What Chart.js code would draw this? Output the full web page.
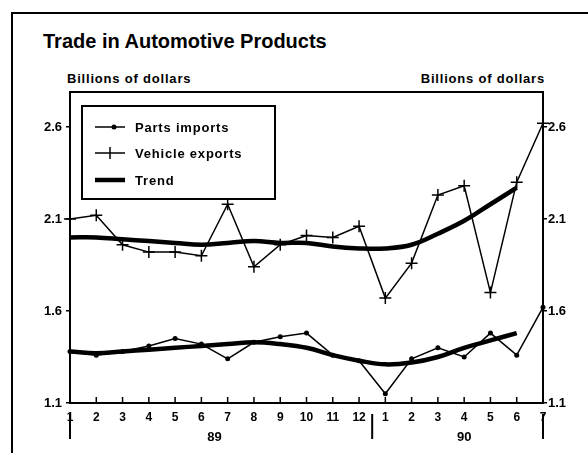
<!DOCTYPE html>
<html>
<head>
<meta charset="utf-8">
<title>Trade in Automotive Products</title>
<script src="https://cdn.jsdelivr.net/npm/chart.js@4/dist/chart.umd.min.js"></script>
<style>
  body { margin: 0; background: #fff; }
  #wrap { position: relative; width: 588px; height: 453px; overflow: hidden;
    font-family: "Liberation Sans", Arial, sans-serif; font-weight: bold; color: #000; }
  #frame { position: absolute; left: 11px; top: 12px; width: 600px; height: 480px;
    border-left: 2px solid #000; border-top: 2px solid #000; }
  #title { position: absolute; left: 43px; top: 30px; font-size: 20px; white-space: nowrap; }
  .unit { position: absolute; top: 71px; font-size: 13px; letter-spacing: 0.8px; white-space: nowrap; }
  #unitLeft { left: 67px; }
  #unitRight { right: 43px; }
  canvas { position: absolute; left: 0; top: 0; }
</style>
</head>
<body>
<div id="wrap">
  <div id="frame"></div>
  <div id="title">Trade in Automotive Products</div>
  <div class="unit" id="unitLeft">Billions of dollars</div>
  <div class="unit" id="unitRight">Billions of dollars</div>
  <canvas id="chart" width="588" height="453"></canvas>
</div>
<script>
// months, 1989 then 1990
const months89 = ['1', '2', '3', '4', '5', '6', '7', '8', '9', '10', '11', '12']
const months90 = ['1', '2', '3', '4', '5', '6', '7']
const years = ['89', '90']

const partsImports = [1.38, 1.36, 1.38, 1.41, 1.45, 1.42, 1.34, 1.43, 1.46, 1.48, 1.36, 1.33,
  1.15, 1.34, 1.40, 1.35, 1.48, 1.36, 1.62]
const vehicleExports = [2.10, 2.12, 1.96, 1.92, 1.92, 1.90, 2.18, 1.84, 1.96, 2.01, 2.00, 2.06,
  1.67, 1.86, 2.23, 2.28, 1.70, 2.30, 2.62]
const partsTrend = [1.38, 1.37, 1.38, 1.39, 1.40, 1.41, 1.42, 1.43, 1.42, 1.40, 1.36, 1.33,
  1.31, 1.32, 1.35, 1.40, 1.44, 1.48, null]
const vehicleTrend = [2.00, 2.00, 1.99, 1.98, 1.97, 1.96, 1.97, 1.98, 1.97, 1.97, 1.95, 1.94,
  1.94, 1.96, 2.02, 2.09, 2.18, 2.27, null]

const yTicks = [1.1, 1.6, 2.1, 2.6]
const yMin = 1.1
const yMax = 2.79

const labels = months89.concat(months90)
const font = { family: '"Liberation Sans", Arial, sans-serif', weight: 'bold' }

const marksPlugin = {
  id: 'marks',
  afterDraw(chart) {
    const ctx = chart.ctx
    const area = chart.chartArea
    const x = chart.scales.x
    ctx.save()
    ctx.strokeStyle = '#000'
    ctx.fillStyle = '#000'

    // plot box
    ctx.lineWidth = 2
    ctx.strokeRect(area.left, area.top, area.right - area.left, area.bottom - area.top)

    // small inner ticks on the month axis
    ctx.lineWidth = 1.5
    ctx.beginPath()
    for (let i = 1; i < labels.length - 1; i++) {
      const px = x.getPixelForValue(i)
      ctx.moveTo(px, area.bottom - 6)
      ctx.lineTo(px, area.bottom)
    }
    ctx.stroke()

    // year separators and year labels
    const bounds = [0, months89.length - 0.5, labels.length - 1]
    ctx.lineWidth = 2
    ctx.beginPath()
    bounds.forEach(b => {
      const px = x.getPixelForValue(b)
      ctx.moveTo(px, area.bottom + 11)
      ctx.lineTo(px, area.bottom + 36)
    })
    ctx.stroke()

    ctx.font = 'bold 13px "Liberation Sans", Arial, sans-serif'
    ctx.textAlign = 'center'
    ctx.textBaseline = 'middle'
    const centers = [(months89.length - 1) / 2, months89.length + (months90.length - 1) / 2]
    years.forEach((yr, i) => {
      ctx.fillText(yr, x.getPixelForValue(centers[i]), area.bottom + 34)
    })

    // legend box
    const lx = area.left + 12
    const ly = area.top + 14
    ctx.lineWidth = 2
    ctx.strokeRect(lx, ly, 193, 93)
    const rows = [21, 47, 74]
    const items = chart.data.datasets.slice(0, 3)
    ctx.textAlign = 'left'
    ctx.letterSpacing = '0.8px'
    items.forEach((ds, i) => {
      const ry = ly + rows[i]
      const x0 = lx + 13
      const x1 = lx + 43
      ctx.lineWidth = ds.borderWidth
      ctx.beginPath()
      ctx.moveTo(x0, ry)
      ctx.lineTo(x1, ry)
      ctx.stroke()
      const mx = (x0 + x1) / 2
      if (ds.pointStyle === 'circle') {
        ctx.beginPath()
        ctx.arc(mx + 4, ry, ds.pointRadius, 0, Math.PI * 2)
        ctx.fill()
      } else if (ds.pointStyle === 'cross') {
        ctx.lineWidth = ds.pointBorderWidth
        ctx.beginPath()
        ctx.moveTo(mx, ry - ds.pointRadius)
        ctx.lineTo(mx, ry + ds.pointRadius)
        ctx.stroke()
      }
      ctx.fillText(ds.label, lx + 53, ry + 1)
    })
    ctx.restore()
  }
}

new Chart(document.getElementById('chart'), {
  type: 'line',
  data: {
    labels: labels,
    datasets: [
      {
        label: 'Parts imports',
        data: partsImports,
        borderColor: '#000',
        backgroundColor: '#000',
        borderWidth: 1.5,
        pointStyle: 'circle',
        pointRadius: 2.5,
        pointBackgroundColor: '#000',
        pointBorderWidth: 0,
        tension: 0
      },
      {
        label: 'Vehicle exports',
        data: vehicleExports,
        borderColor: '#000',
        backgroundColor: '#000',
        borderWidth: 1.5,
        pointStyle: 'cross',
        pointRadius: 6,
        pointBorderColor: '#000',
        pointBorderWidth: 1.5,
        tension: 0
      },
      {
        label: 'Trend',
        data: partsTrend,
        borderColor: '#000',
        borderWidth: 4.5,
        pointRadius: 0,
        tension: 0.4
      },
      {
        label: 'Trend (vehicles)',
        data: vehicleTrend,
        borderColor: '#000',
        borderWidth: 4.5,
        pointRadius: 0,
        tension: 0.4
      }
    ]
  },
  options: {
    responsive: false,
    animation: false,
    layout: { padding: { top: 92, left: 0, right: 0, bottom: 0 } },
    plugins: {
      legend: { display: false },
      tooltip: { enabled: false }
    },
    scales: {
      x: {
        type: 'category',
        offset: false,
        grid: { display: false, drawTicks: false },
        border: { display: false },
        ticks: { color: '#000', font: { ...font, size: 12 }, padding: 7, maxRotation: 0, autoSkip: false },
        afterFit: s => { s.height = 50 }
      },
      y: {
        position: 'left',
        min: yMin,
        max: yMax,
        grid: { drawOnChartArea: false, drawTicks: true, tickLength: 4, color: '#000', lineWidth: 1.5 },
        border: { display: false },
        afterBuildTicks: s => { s.ticks = yTicks.map(v => ({ value: v })) },
        ticks: { color: '#000', font: { ...font, size: 13 }, padding: 4, callback: v => v.toFixed(1) },
        afterFit: s => { s.width = 70 }
      },
      y2: {
        position: 'right',
        min: yMin,
        max: yMax,
        grid: { drawOnChartArea: false, drawTicks: true, tickLength: 4, color: '#000', lineWidth: 1.5 },
        border: { display: false },
        afterBuildTicks: s => { s.ticks = yTicks.map(v => ({ value: v })) },
        ticks: { color: '#000', font: { ...font, size: 13 }, padding: 1, callback: v => v.toFixed(1) },
        afterFit: s => { s.width = 45 }
      }
    }
  },
  plugins: [marksPlugin]
})
</script>
</body>
</html>
